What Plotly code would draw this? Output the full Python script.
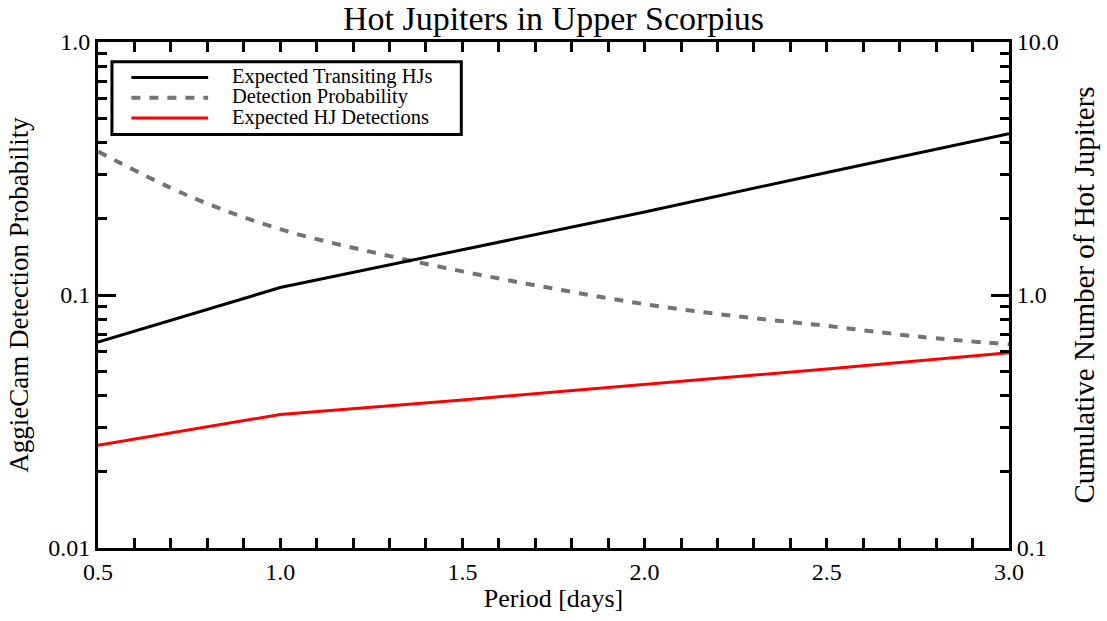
import plotly.graph_objects as go

# Orbital period grid (days)
period_coarse = [0.5, 1.0, 1.5, 2.0, 2.5, 3.0]
period_fine = [0.5, 0.75, 1.0, 1.25, 1.5, 1.75, 2.0, 2.25, 2.5, 2.75, 3.0]

# Cumulative expected number of transiting hot Jupiters (right axis)
expected_transiting = [0.651, 1.07, 1.51, 2.13, 3.05, 4.34]
# Expected hot Jupiter detections (right axis)
expected_detections = [0.255, 0.337, 0.385, 0.443, 0.510, 0.591]
# AggieCam detection probability (left axis)
detection_prob = [0.369, 0.246, 0.182, 0.148, 0.124, 0.106, 0.092, 0.0825, 0.0755, 0.0685, 0.0638]

x_major = [0.5, 1.0, 1.5, 2.0, 2.5, 3.0]
x_labels = ["0.5", "1.0", "1.5", "2.0", "2.5", "3.0"]
x_minor = [round(0.5 + 0.1 * i, 1) for i in range(26)]

left_major = [0.01, 0.1, 1.0]
left_labels = ["0.01", "0.1", "1.0"]
right_major = [0.1, 1.0, 10.0]
right_labels = ["0.1", "1.0", "10.0"]


def minor_log(lo_exp, hi_exp):
    vals = []
    for e in range(lo_exp, hi_exp):
        for m in range(2, 10):
            vals.append(m * 10 ** e)
    return vals


FONT = "Liberation Serif"
W, H = 1107, 621
ML, MR, MT, MB = 97.5, 95.5, 42, 67
PW, PH = W - ML - MR, H - MT - MB


def px(xpix):
    return (xpix - ML) / PW


def py(ypix):
    return (H - MB - ypix) / PH


series_styles = [
    ("Expected Transiting HJs", dict(color="black", width=3)),
    ("Detection Probability", dict(color="#737373", width=4, dash="9px,9px")),
    ("Expected HJ Detections", dict(color="#ff0000", width=3)),
]

fig = go.Figure()
fig.add_trace(go.Scatter(
    x=period_coarse, y=expected_transiting, mode="lines", yaxis="y2",
    name=series_styles[0][0], line=series_styles[0][1],
))
fig.add_trace(go.Scatter(
    x=period_fine, y=detection_prob, mode="lines", yaxis="y",
    name=series_styles[1][0], line=dict(**series_styles[1][1], shape="spline"),
))
fig.add_trace(go.Scatter(
    x=period_coarse, y=expected_detections, mode="lines", yaxis="y2",
    name=series_styles[2][0], line=series_styles[2][1],
))

# Legend box drawn by hand so the rows sit close together
shapes = [dict(
    type="rect", xref="paper", yref="paper",
    x0=px(111.5), x1=px(462), y0=py(135.5), y1=py(62),
    line=dict(color="black", width=3), fillcolor="white", layer="above",
)]
annotations = []
for i, (label, style) in enumerate(series_styles):
    yc = 78 + 20.5 * i
    shapes.append(dict(
        type="line", xref="paper", yref="paper",
        x0=px(131), x1=px(208), y0=py(yc), y1=py(yc),
        line=style, layer="above",
    ))
    annotations.append(dict(
        text=label, xref="paper", yref="paper",
        x=px(231), y=py(yc - 1), xanchor="left", yanchor="middle",
        showarrow=False, borderpad=0,
        font=dict(family=FONT, size=20.5, color="black"),
    ))

axis_common = dict(
    showline=True, linecolor="black", linewidth=3, showgrid=False,
    zeroline=False, ticks="inside", tickcolor="black", tickwidth=2.5,
    tickfont=dict(family=FONT, size=24, color="black"),
)

fig.update_layout(
    width=W, height=H,
    margin=dict(l=ML, r=MR, t=MT, b=MB),
    paper_bgcolor="white", plot_bgcolor="white",
    font=dict(family=FONT, color="black"),
    showlegend=False,
    shapes=shapes, annotations=annotations,
    title=dict(
        text="Hot Jupiters in Upper Scorpius",
        font=dict(family=FONT, size=34, color="black"),
        x=0.5, xref="paper", xanchor="center",
        y=1 - 18 / H, yref="container", yanchor="middle",
    ),
    xaxis=dict(
        **axis_common,
        range=[0.5, 3.0], mirror="allticks",
        tickvals=x_major, ticktext=x_labels, ticklen=10,
        minor=dict(tickvals=x_minor, ticks="inside", ticklen=5,
                   tickwidth=2.5, tickcolor="black"),
        title=dict(text="Period [days]", standoff=6,
                   font=dict(family=FONT, size=26, color="black")),
    ),
    yaxis=dict(
        **axis_common,
        type="log", range=[-2, 0],
        tickvals=left_major, ticktext=left_labels, ticklen=18,
        minor=dict(tickvals=minor_log(-2, 0), ticks="inside", ticklen=9,
                   tickwidth=2.5, tickcolor="black"),
        title=dict(text="AggieCam Detection Probability", standoff=12,
                   font=dict(family=FONT, size=27, color="black")),
    ),
    yaxis2=dict(
        **axis_common,
        type="log", range=[-1, 1], overlaying="y", side="right",
        tickvals=right_major, ticktext=right_labels, ticklen=18,
        minor=dict(tickvals=minor_log(-1, 1), ticks="inside", ticklen=9,
                   tickwidth=2.5, tickcolor="black"),
        title=dict(text="Cumulative Number of Hot Jupiters", standoff=16,
                   font=dict(family=FONT, size=29, color="black")),
    ),
)

fig.write_html("out.html")
